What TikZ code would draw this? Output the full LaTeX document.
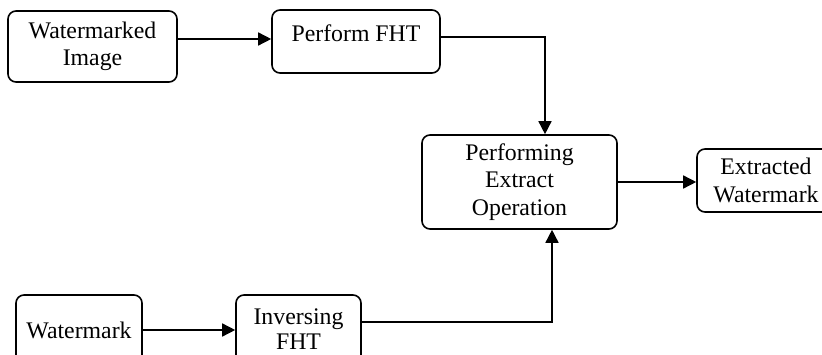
\documentclass[tikz,border=0pt]{standalone}
\usepackage{fontspec}
\setmainfont{Liberation Serif}
\usetikzlibrary{arrows.meta}
\begin{document}
\begin{tikzpicture}[x=1pt,y=-1pt,
  box/.style={draw=black,line width=1.6pt,rounded corners=8pt,inner sep=0pt,align=center,
    font=\fontsize{23.8}{27.5}\selectfont},
  txt/.style={inner sep=0pt,align=center,font=\fontsize{23.8}{27.5}\selectfont},
  arr/.style={draw=black,line width=1.5pt,-{Triangle[length=13pt,width=13pt]}}]
\clip (0,0) rectangle (822,355);
\fill[white] (0,0) rectangle (822,355);
\node[box,minimum width=169pt,minimum height=71pt] (p1) at (92.5,46.5) {Watermarked\\Image};
\node[box,minimum width=168pt,minimum height=63pt] (p2) at (356,41.5) {};
\node[txt] (p2t) at (356,33) {Perform FHT};
\node[box,minimum width=195pt,minimum height=94pt] (p3) at (519.5,182) {Performing\\Extract\\Operation};
\node[box,minimum width=138pt,minimum height=63pt] (p4) at (766,180.5) {Extracted\\Watermark};
\node[box,minimum width=126pt,minimum height=70pt] (p5) at (79,330) {Watermark};
\node[box,minimum width=125pt,minimum height=70pt] (p6) at (298.5,330) {};
\node[txt,font=\fontsize{23.8}{25}\selectfont] (p6t) at (298.5,329) {Inversing\\FHT};
\draw[arr] ([yshift=7.5pt]p1.east) -- ([yshift=7.5pt]p1.east -| p2.west);
\draw[arr] ([yshift=4.5pt]p2.east) -| ([xshift=25.5pt]p3.north);
\draw[arr] (p3.east) -- (p3.east -| p4.west);
\draw[arr] (p5.east) -- (p5.east -| p6.west);
\draw[arr] ([yshift=8pt]p6.east) -| ([xshift=32.5pt]p3.south);
\end{tikzpicture}
\end{document}
